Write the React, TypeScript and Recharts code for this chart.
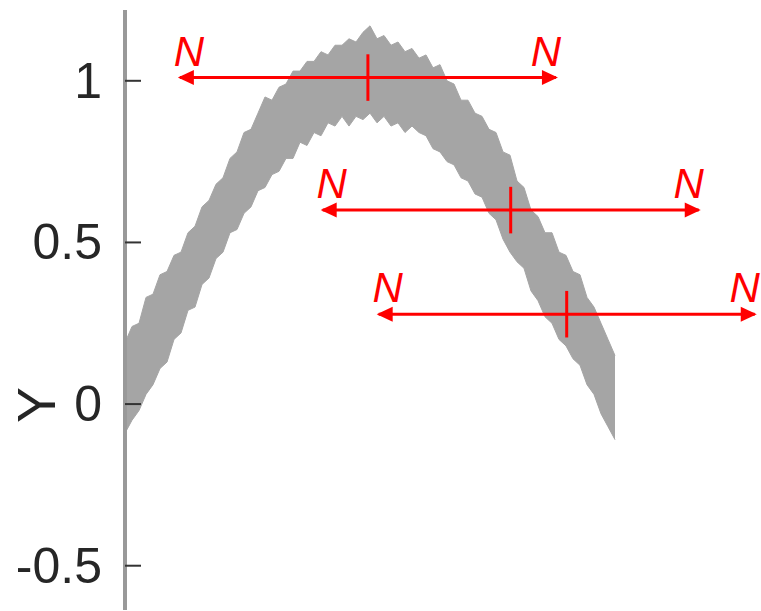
import React from "react";
import {
  ComposedChart,
  Area,
  Line,
  XAxis,
  YAxis,
  ReferenceLine,
  Label,
} from "recharts";

// noisy band (upper and lower edge per sample)
const bandHigh = [
  0.19, 0.24, 0.25, 0.33, 0.34, 0.4, 0.41, 0.46, 0.47, 0.53, 0.55, 0.61, 0.63, 0.68, 0.7, 0.76,
  0.78, 0.84, 0.85, 0.9, 0.95, 0.94, 0.98, 0.99, 1.03, 1.03, 1.06, 1.06, 1.09, 1.08, 1.11, 1.11,
  1.13, 1.12, 1.15, 1.17, 1.13, 1.14, 1.11, 1.12, 1.09, 1.1, 1.07, 1.08, 1.04, 1.05, 1.0, 0.99,
  0.94, 0.94, 0.9, 0.89, 0.85, 0.84, 0.78, 0.77, 0.69, 0.67, 0.6, 0.58, 0.53, 0.53, 0.47, 0.46,
  0.41, 0.4, 0.33, 0.3, 0.25, 0.2, 0.15,
];
const bandLow = [
  -0.09, -0.05, -0.02, 0.03, 0.06, 0.11, 0.13, 0.2, 0.22, 0.29, 0.3, 0.37, 0.39, 0.45, 0.47, 0.53,
  0.54, 0.59, 0.61, 0.66, 0.67, 0.71, 0.72, 0.76, 0.76, 0.81, 0.8, 0.84, 0.83, 0.87, 0.86, 0.89,
  0.86, 0.89, 0.88, 0.9, 0.87, 0.89, 0.86, 0.87, 0.84, 0.86, 0.84, 0.83, 0.79, 0.78, 0.75, 0.74,
  0.7, 0.69, 0.65, 0.64, 0.59, 0.57, 0.51, 0.47, 0.44, 0.42, 0.35, 0.32, 0.27, 0.25, 0.2, 0.18,
  0.14, 0.12, 0.06, 0.03, -0.03, -0.07, -0.11,
];

// the three N-wide arrows: centre sample, level
const arrowCenters = [34.7, 55.1, 63.1];
const arrowLevels = [1.01, 0.6, 0.278];
const halfWidth = 26.86;
const markHalf = 0.072;

const yTicks = [-0.5, 0, 0.5, 1];

const bandData = bandHigh.map((hi, i) => ({ x: i, band: [bandLow[i], hi] }));

const RED = "#ff0000";
const FONT = "'Liberation Sans', Arial, sans-serif";
const TICK_GAP = 23;

function YTick({ x, y, payload }: any) {
  return (
    <g>
      <line x1={x + TICK_GAP} x2={x + TICK_GAP + 16} y1={y} y2={y} stroke="#333" strokeWidth={2} />
      <text
        x={x}
        y={y}
        textAnchor="end"
        dominantBaseline="central"
        fontSize={50}
        fontFamily={FONT}
        fill="#262626"
      >
        {payload.value}
      </text>
    </g>
  );
}

function ArrowEnd(props: any) {
  const { cx, cy, index } = props;
  if (cx == null || cy == null) return <g key={props.key} />;
  const left = index === 0;
  const tip = left ? cx - 2 : cx + 2;
  const base = left ? tip + 16 : tip - 16;
  return (
    <g key={props.key}>
      <polygon points={`${tip},${cy} ${base},${cy - 7.5} ${base},${cy + 7.5}`} fill={RED} />
      <text
        x={left ? cx + 9 : cx - 10}
        y={cy - 12}
        textAnchor="middle"
        fontSize={42}
        fontStyle="italic"
        fontFamily={FONT}
        fill={RED}
      >
        N
      </text>
    </g>
  );
}

function YLabel({ viewBox }: any) {
  const x = viewBox.x + 36;
  const y = viewBox.y + 395;
  return (
    <text
      x={x}
      y={y}
      transform={`rotate(-90, ${x}, ${y})`}
      textAnchor="middle"
      dominantBaseline="central"
      fontSize={54}
      fontFamily={FONT}
      fill="#262626"
    >
      Y
    </text>
  );
}

export default function App() {
  return (
    <div style={{ position: "absolute", left: 0, top: 0, background: "#fff" }}>
      <ComposedChart
        width={761}
        height={611}
        data={bandData}
        margin={{ top: 10, right: 0, bottom: 1, left: 0 }}
      >
        <XAxis dataKey="x" type="number" domain={[0, 90.857]} hide allowDataOverflow />
        <YAxis
          type="number"
          domain={[-0.637, 1.219]}
          ticks={yTicks}
          width={125}
          tickSize={0}
          tickMargin={TICK_GAP}
          tick={<YTick />}
          tickLine={false}
          axisLine={{ stroke: "#999", strokeWidth: 4 }}
          allowDataOverflow
        >
          <Label content={<YLabel />} />
        </YAxis>
        <Area
          dataKey="band"
          type="linear"
          fill="#a5a5a5"
          fillOpacity={1}
          stroke="#a5a5a5"
          strokeWidth={1}
          isAnimationActive={false}
        />
        {arrowCenters.map((c, i) => (
          <Line
            key={`arrow-${i}`}
            data={[
              { x: c - halfWidth, y: arrowLevels[i] },
              { x: c + halfWidth, y: arrowLevels[i] },
            ]}
            dataKey="y"
            stroke={RED}
            strokeWidth={3}
            dot={(p: any) => <ArrowEnd {...p} />}
            activeDot={false}
            isAnimationActive={false}
          />
        ))}
        {arrowCenters.map((c, i) => (
          <ReferenceLine
            key={`mark-${i}`}
            segment={[
              { x: c, y: arrowLevels[i] - markHalf },
              { x: c, y: arrowLevels[i] + markHalf },
            ]}
            stroke={RED}
            strokeWidth={3}
          />
        ))}
      </ComposedChart>
    </div>
  );
}
